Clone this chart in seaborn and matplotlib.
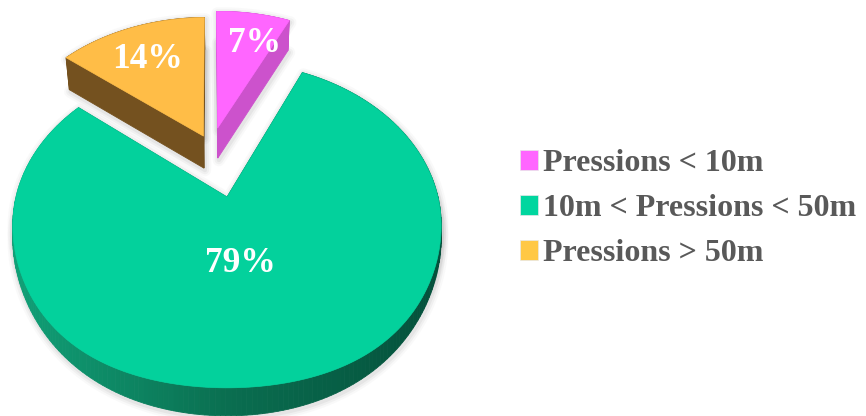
import numpy as np
import matplotlib
matplotlib.use("Agg")
import matplotlib.pyplot as plt
from matplotlib.patches import Patch, Polygon
import seaborn as sns

labels = ["Pressions < 10m", "10m < Pressions < 50m", "Pressions > 50m"]
values = [7, 79, 14]
explode = [0.147, 0.337, 0.0945]

top_colors = ["#FF66FF", "#03D19C", "#FFBD47"]
legend_colors = ["#FF66FF", "#00D69F", "#FFC845"]
side_colors = [
    ["#CC52CC", "#CC52CC"],
    ["#10A077", "#0A6E50", "#04503B"],
    ["#7D5823", "#6B4A1B"],
]
depths = [30, 28, 32]
shrinks = [0.98, 1.0, 0.98]
tapers = [0.0, 0.55, 0.0]
label_pos = [(254.5, 44), (240.5, 263), (148, 59)]

# perspective of the pie plane, in pixels
apex = (227, 197)
scale_x, scale_y = 211, 158
tilt = 0.172
bulge = 26

sns.set_theme(style="white")
plt.rcParams["font.family"] = ["Liberation Serif", "DejaVu Serif"]

fig = plt.figure(figsize=(8.66, 4.16), dpi=100)
ax = fig.add_axes([0, 0, 1, 1])
ax.set_xlim(0, 866)
ax.set_ylim(416, 0)
ax.axis("off")

# flat pie on a hidden axes, its wedges get projected afterwards
plane = fig.add_axes([0, 0, 0.1, 0.1])
wedges, _ = plane.pie(values, explode=explode, startangle=90.8, counterclock=False)
plane.set_visible(False)
origin = np.array(wedges[1].center)


def project(points):
    pts = points - origin
    w = 1 + tilt * pts[:, 1]
    near = np.minimum(pts[:, 1], 0)
    return np.column_stack([apex[0] + scale_x * pts[:, 0] / w,
                            apex[1] - scale_y * pts[:, 1] / w + bulge * pts[:, 0] ** 2 * near ** 2])


def wedge_outline(wedge):
    theta = np.radians(np.linspace(wedge.theta1, wedge.theta2, 240))
    arc = np.column_stack([wedge.center[0] + wedge.r * np.cos(theta),
                           wedge.center[1] + wedge.r * np.sin(theta)])
    return project(np.vstack([[wedge.center], arc]))


for wedge, top, sides, depth, shrink, taper in zip(wedges, top_colors, side_colors, depths, shrinks, tapers):
    outline = wedge_outline(wedge)
    rel_x = (outline[:, 0] - apex[0]) / 214
    lower = outline.copy()
    lower[:, 1] += depth * (1 - taper * rel_x ** 2)
    lower[:, 0] = apex[0] + (lower[:, 0] - apex[0]) * shrink
    hull = np.vstack([outline, lower])

    # soft shadow round the slice
    for lw, alpha in [(9, 0.03), (6, 0.05), (3, 0.07)]:
        for shape in (outline, lower):
            ax.add_patch(Polygon(shape + [1, 2], closed=True, fc="none", ec="#555555",
                                 lw=lw, alpha=alpha, joinstyle="round", zorder=1))

    # side faces, back to front
    shades = sns.blend_palette(sides, 100)
    xmin, xmax = hull[:, 0].min(), hull[:, 0].max()
    next_i = np.roll(np.arange(len(outline)), -1)
    order = np.argsort((outline[:, 1] + outline[next_i, 1]) / 2)
    for i in order:
        j = next_i[i]
        pos = ((outline[i, 0] + outline[j, 0]) / 2 - xmin) / (xmax - xmin)
        colour = shades[min(int(pos * 100), 99)]
        quad = [outline[i], outline[j], lower[j], lower[i]]
        ax.add_patch(Polygon(quad, closed=True, fc=colour, ec=colour, lw=0.6, zorder=2))

    ax.add_patch(Polygon(outline, closed=True, fc=top, ec=top, lw=0.5, zorder=3))

for value, pos in zip(values, label_pos):
    ax.text(pos[0], pos[1], f"{value}%", color="white", fontsize=25.5, fontweight="bold",
            ha="center", va="center", zorder=5)

handles = [Patch(facecolor=c, edgecolor="#E8E8E8", linewidth=0.5) for c in legend_colors]
ax.legend(handles, labels, loc="upper left", bbox_to_anchor=(0.6005, 0.641),
          frameon=False, labelcolor="#595959",
          prop={"family": "Liberation Serif", "weight": "bold", "size": 23.05},
          handlelength=0.56, handleheight=0.56, handletextpad=0.16, labelspacing=0.5,
          borderpad=0, borderaxespad=0)

fig.savefig("out.png", dpi=100)
